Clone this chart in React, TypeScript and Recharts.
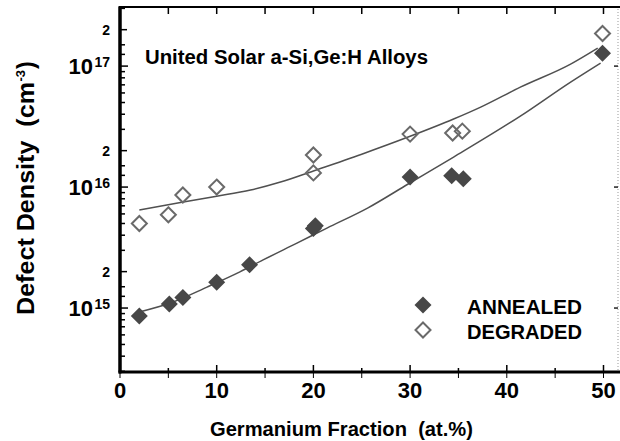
import React from 'react'
import { ComposedChart, Line, Scatter, XAxis, YAxis, Legend } from 'recharts'

const FONT = "'Liberation Sans', Arial, Helvetica, sans-serif"

// measured points
const annealedX = [2, 5.1, 6.5, 10, 13.4, 20, 20.2, 30, 34.3, 35.5, 49.9]
const annealedY = [8.6e14, 1.08e15, 1.22e15, 1.63e15, 2.28e15, 4.55e15, 4.8e15, 1.21e16, 1.24e16, 1.17e16, 1.28e17]
const degradedX = [2, 5, 6.5, 10, 20, 20, 30, 34.4, 35.4, 49.9]
const degradedY = [5.0e15, 5.9e15, 8.6e15, 1.0e16, 1.84e16, 1.31e16, 2.74e16, 2.8e16, 2.9e16, 1.86e17]

// fitted curves
const annealedFitX = [2, 5.2, 9, 12.4, 14.8, 18.3, 21.4, 25.6, 29.8, 34.5, 41.4, 46.6, 49.7]
const annealedFitY = [9.27e14, 1.1e15, 1.49e15, 1.99e15, 2.5e15, 3.44e15, 4.58e15, 6.7e15, 1.06e16, 1.77e16, 3.86e16, 7.38e16, 1.06e17]
const degradedFitX = [2, 6.4, 10, 13.5, 16.6, 20, 25, 29.8, 34.5, 37.3, 41.4, 46.6, 49.4]
const degradedFitY = [6.46e15, 7.5e15, 8.4e15, 9.45e15, 1.1e16, 1.36e16, 1.87e16, 2.59e16, 3.65e16, 4.58e16, 6.7e16, 1.04e17, 1.41e17]

const seriesNames = ['ANNEALED', 'DEGRADED']

// axes
const xMax = 51.5
const yMin = 2.96e14
const yMax = 3.08e17
const xTicks = [0, 5, 10, 15, 20, 25, 30, 35, 40, 45, 50]
const xLabelTicks = [0, 10, 20, 30, 40, 50]
const yTicks = [
  3e14, 4e14, 5e14, 6e14, 7e14, 8e14, 9e14,
  1e15, 1.25e15, 1.5e15, 2e15, 3e15, 4e15, 5e15, 6e15, 7e15, 8e15, 9e15,
  1e16, 1.25e16, 1.5e16, 2e16, 3e16, 4e16, 5e16, 6e16, 7e16, 8e16, 9e16,
  1e17, 1.25e17, 1.5e17, 2e17, 3e17,
]
const decadeTicks = [1e15, 1e16, 1e17]
const decadeExp = ['15', '16', '17']
const twoTicks = [2e15, 2e16, 2e17]

// plot box (matches chart margins / axis sizes below)
const W = 620
const H = 441
const PL = 120
const PR = 618
const PT = 7
const PB = 372
const px = (v: number) => PL + (v / xMax) * (PR - PL)
const py = (v: number) =>
  PT + ((Math.log10(yMax) - Math.log10(v)) / (Math.log10(yMax) - Math.log10(yMin))) * (PB - PT)

const zip = (xs: number[], ys: number[]) => xs.map((x, i) => ({ x, y: ys[i] }))
const annealed = zip(annealedX, annealedY)
const degraded = zip(degradedX, degradedY)
const annealedFit = zip(annealedFitX, annealedFitY)
const degradedFit = zip(degradedFitX, degradedFitY)

const Diamond = ({ cx, cy, filled }: { cx: number; cy: number; filled: boolean }) => {
  const r = filled ? 8.5 : 7.5
  const pts = `${cx},${cy - r} ${cx + r},${cy} ${cx},${cy + r} ${cx - r},${cy}`
  return filled ? (
    <polygon points={pts} fill="#474747" />
  ) : (
    <polygon points={pts} fill="none" stroke="#6a6a6a" strokeWidth={2} />
  )
}

const LeftTick = ({ x, y, payload }: any) => {
  const v = payload.value
  const d = decadeTicks.indexOf(v)
  if (d >= 0) {
    return (
      <g fontWeight="bold" fontFamily={FONT} fill="#000">
        <text x={x - 27} y={y + 8} textAnchor="end" fontSize={22}>10</text>
        <text x={x - 10} y={y + 1} textAnchor="end" fontSize={14}>{decadeExp[d]}</text>
      </g>
    )
  }
  if (twoTicks.includes(v)) {
    return (
      <text x={x - 10} y={y + 5} textAnchor="end" fontSize={14} fontWeight="bold" fontFamily={FONT} fill="#000">
        2
      </text>
    )
  }
  return <g />
}

// default tickSize 6 + tickMargin 2 put the label anchor 8px below the axis
const BottomTick = ({ x, y, payload }: any) =>
  xLabelTicks.includes(payload.value) ? (
    <text x={x} y={y - 8 + 26} textAnchor="middle" fontSize={22} fontWeight="bold" fontFamily={FONT} fill="#000">
      {payload.value}
    </text>
  ) : (
    <g />
  )

const LegendBox = ({ payload }: any) => {
  const items = (payload || []).filter((e: any) => seriesNames.includes(e.value))
  return (
    <svg width={180} height={60} style={{ display: 'block' }}>
      {items.map((entry: any, i: number) => (
        <g key={entry.value} transform={`translate(0, ${i * 25})`}>
          <Diamond cx={13} cy={15} filled={entry.value === seriesNames[0]} />
          <text x={57} y={24} fontSize={21} fontWeight="bold" fontFamily={FONT} fill="#000" textLength={115} lengthAdjust="spacingAndGlyphs">
            {entry.value}
          </text>
        </g>
      ))}
    </svg>
  )
}

// frame and inward tick marks, drawn as thin filled bars
const Frame = () => (
  <g fill="#000">
    <defs>
      <pattern id="dots" width={1} height={3} patternUnits="userSpaceOnUse">
        <rect width={1} height={1} fill="#999" />
      </pattern>
    </defs>
    <rect x={PL} y={PT - 1} width={W - PL} height={2} />
    <rect x={PL - 1.5} y={PB - 1.5} width={W - PL + 1.5} height={3} />
    <rect x={PL - 1.5} y={PT - 1} width={3} height={PB - PT + 2.5} />
    <rect x={PR - 0.5} y={PT} width={1} height={PB - PT} fill="url(#dots)" />
    {yTicks.map((t) => {
      const len = decadeTicks.includes(t) ? 8 : twoTicks.includes(t) ? 7 : 5
      return <rect key={`l${t}`} x={PL} y={py(t) - 0.75} width={len} height={1.5} />
    })}
    {xTicks.map((t) => {
      const len = xLabelTicks.includes(t) ? 7 : 4
      return <rect key={`b${t}`} x={px(t) - 0.75} y={PB - len} width={1.5} height={len} />
    })}
    {xTicks.map((t) => (
      <rect key={`t${t}`} x={px(t) - 0.75} y={PT} width={1.5} height={7} />
    ))}
    {decadeTicks.map((t) => (
      <rect key={`r${t}`} x={PR - 4} y={py(t) - 0.75} width={4} height={1.5} fill="#222" />
    ))}
  </g>
)

export default function App() {
  return (
    <div style={{ position: 'absolute', left: 0, top: 0, width: W, height: H, background: '#fff' }}>
      <ComposedChart width={W} height={H} margin={{ top: PT, right: W - PR, bottom: 0, left: 0 }}>
        <XAxis
          xAxisId="b"
          dataKey="x"
          type="number"
          domain={[0, xMax]}
          allowDataOverflow
          ticks={xTicks}
          height={H - PB}
          stroke="#000"
          tick={<BottomTick />}
        />
        <YAxis
          yAxisId="l"
          dataKey="y"
          type="number"
          scale="log"
          domain={[yMin, yMax]}
          allowDataOverflow
          ticks={yTicks}
          interval={0}
          width={PL}
          tickSize={0}
          tickMargin={0}
          tickLine={false}
          tick={<LeftTick />}
          axisLine={{ stroke: '#000', strokeWidth: 3 }}
        />
        <Legend
          layout="vertical"
          align="center"
          verticalAlign="middle"
          content={(props: any) => <LegendBox {...props} />}
          wrapperStyle={{ left: 410, top: 290, width: 180, height: 60 }}
        />
        <Line
          xAxisId="b"
          yAxisId="l"
          data={annealedFit}
          dataKey="y"
          type="monotone"
          stroke="#505050"
          strokeWidth={1.5}
          dot={false}
          legendType="none"
          isAnimationActive={false}
        />
        <Line
          xAxisId="b"
          yAxisId="l"
          data={degradedFit}
          dataKey="y"
          type="monotone"
          stroke="#505050"
          strokeWidth={1.5}
          dot={false}
          legendType="none"
          isAnimationActive={false}
        />
        <Scatter
          xAxisId="b"
          yAxisId="l"
          name={seriesNames[0]}
          data={annealed}
          dataKey="y"
          fill="#474747"
          shape={(p: any) => <Diamond cx={p.cx} cy={p.cy} filled />}
          isAnimationActive={false}
        />
        <Scatter
          xAxisId="b"
          yAxisId="l"
          name={seriesNames[1]}
          data={degraded}
          dataKey="y"
          fill="#6a6a6a"
          shape={(p: any) => <Diamond cx={p.cx} cy={p.cy} filled={false} />}
          isAnimationActive={false}
        />
      </ComposedChart>
      <svg
        width={W}
        height={H}
        style={{ position: 'absolute', left: 0, top: 0, pointerEvents: 'none' }}
        fontFamily={FONT}
        fontWeight="bold"
        fill="#000"
      >
        <Frame />
        <text x={145} y={64} fontSize={20} textLength={283} lengthAdjust="spacingAndGlyphs">
          United Solar a-Si,Ge:H Alloys
        </text>
        <text x={210} y={436} fontSize={21} textLength={263} lengthAdjust="spacingAndGlyphs">
          Germanium Fraction{'\u00A0 '}(at.%)
        </text>
        <g transform="translate(34, 188.5) rotate(-90)">
          <text x={-126.5} y={0} fontSize={23} textLength={233} lengthAdjust="spacingAndGlyphs">
            Defect Density{'\u00A0 '}(cm
          </text>
          <text x={107} y={-9} fontSize={13}>-3</text>
          <text x={119.5} y={0} fontSize={23}>)</text>
        </g>
      </svg>
    </div>
  )
}
